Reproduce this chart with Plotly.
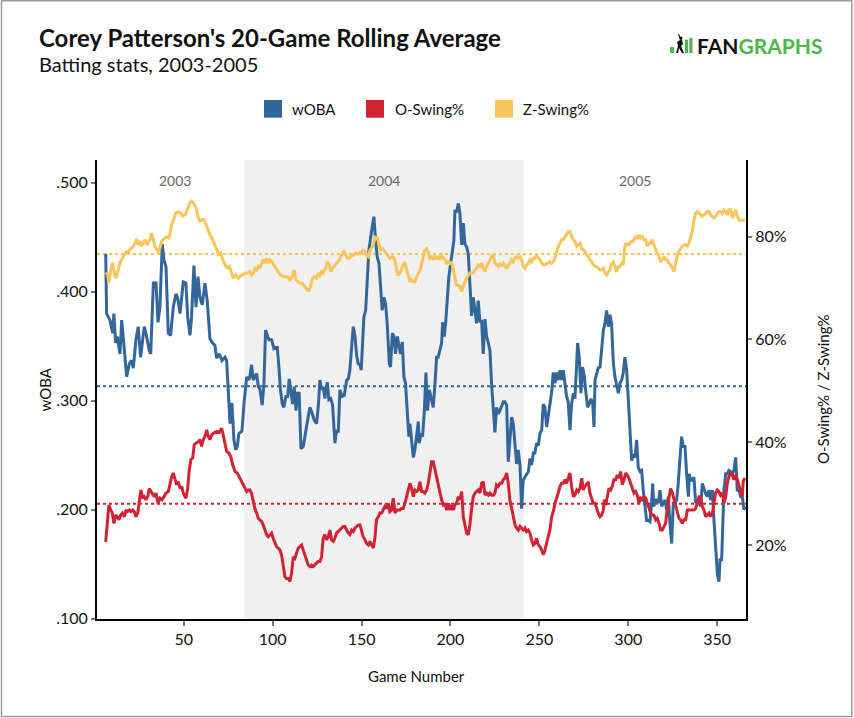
"""
Corey Patterson 20-game rolling average (wOBA, O-Swing%, Z-Swing%), 2003-2005
"""

import plotly.graph_objects as go

# ---- data ----
woba_games = [
    6.1, 6.6, 8.5, 10.0, 10.7, 11.7, 12.6, 13.4, 14.1, 15.1, 16.0, 16.7, 17.9, 19.4, 20.7, 21.6,
    23.1, 24.4, 25.7, 26.9, 27.8, 29.1, 30.6, 31.4, 32.9, 34.4, 35.5, 36.6, 37.9, 38.9, 40.0, 41.3,
    42.6, 44.1, 45.6, 46.5, 47.9, 49.7, 51.2, 52.2, 53.5, 54.4, 55.7, 56.9, 58.0, 59.1, 60.4, 61.9,
    63.2, 64.7, 66.2, 67.5, 68.5, 70.0, 71.5, 73.2, 74.1, 75.0, 76.0, 77.1, 78.2, 79.2, 80.1, 81.0,
    82.7, 83.9, 85.4, 86.5,
    87.2, 88.1, 89.1, 90.0, 91.0, 91.9, 92.8, 94.1, 95.1, 96.0, 97.0, 97.9, 99.4, 100.7, 101.6,
    102.6, 103.5, 104.4, 105.4, 106.3, 107.4, 108.4, 109.3, 110.3, 111.2, 112.1, 113.1, 114.0,
    114.9, 115.9, 117.2, 118.7, 120.0, 120.9, 122.3, 123.4, 124.7, 125.6, 126.6, 127.5, 128.4,
    129.4, 130.7, 131.6, 132.6, 133.7, 135.0, 135.9, 136.9, 137.8, 139.1, 140.3, 141.6, 142.5,
    143.4, 144.4, 145.3, 146.3, 147.2, 148.1, 149.1, 149.8, 150.6, 151.3, 152.3, 153.2, 154.1,
    155.1, 156.0, 156.9, 157.9, 158.8, 159.8, 160.7, 161.6, 162.6, 163.5, 164.4, 165.6, 166.3,
    167.3, 168.2, 169.1, 170.1, 171.0, 171.9, 172.9, 173.8, 174.7, 175.7, 176.6,
    177.2, 178.1, 179.1, 180.0, 181.0, 181.9, 182.4, 183.4, 184.3, 185.3, 186.2, 187.1, 188.1,
    189.0, 190.3, 191.3, 192.2, 193.1, 194.1, 195.0, 195.6, 196.5, 197.3, 198.2, 199.1, 200.1,
    201.0, 201.9, 202.5, 203.4, 204.4, 205.3, 206.3, 207.2, 208.1, 209.1, 210.0, 210.9, 211.9,
    212.8, 213.8, 214.7, 215.6, 216.6, 217.5, 218.4, 219.4, 220.3, 221.3, 222.2, 223.1, 224.1,
    225.0, 225.9, 226.9, 227.8, 228.8, 229.7, 230.6, 231.6, 232.5, 233.4, 234.4, 235.3, 236.3,
    237.2, 238.1, 239.1, 240.0, 240.9, 241.9, 242.8, 243.8, 244.7, 245.6, 246.6, 247.5, 248.4,
    249.4, 250.3, 251.3, 252.2, 253.1, 254.1, 255.0, 255.9, 256.9, 257.8, 258.8, 259.7, 260.6,
    261.6, 262.5, 263.4, 264.4, 265.3, 266.2,
    267.2, 268.1, 269.1, 270.0, 271.0, 271.5, 272.4, 273.4, 274.3, 275.3, 276.2, 277.1, 278.1,
    279.0, 280.0, 280.7, 281.3, 282.2, 283.1, 284.1, 285.0, 286.0, 286.9, 287.8, 288.8, 289.7,
    290.6, 291.6, 292.5, 293.4, 294.4, 295.3, 296.3, 297.2, 298.1, 299.1, 300.0, 300.9, 301.9,
    302.8, 303.8, 304.7, 305.6, 306.6, 307.5, 308.4, 309.4, 310.3, 311.3, 312.2, 313.1, 313.7,
    314.4, 315.0, 315.9, 316.9, 317.8, 318.8, 319.7, 320.6, 321.6, 322.5, 323.4, 324.4, 325.3,
    326.3, 327.2, 328.1, 329.1, 330.0, 330.9, 331.9, 332.8, 333.8, 334.3, 335.1, 336.0, 336.9,
    337.9, 338.8, 339.8, 340.7, 341.6, 342.6, 343.5, 344.4, 345.4, 346.3, 347.3, 348.2, 349.1,
    350.1, 351.0, 351.6, 352.5, 353.1, 353.8, 354.8, 355.7, 356.6, 357.6, 358.5, 359.4, 360.4,
    361.3, 362.3, 363.2, 364.1, 365.1, 365.6,
]
woba = [
    .435, .380, .374, .362, .380, .353, .359, .350, .343, .374, .356, .340, .322, .334, .337, .330,
    .356, .368, .340, .356, .368, .359, .346, .343, .408, .408, .372, .386, .444, .429, .423, .362,
    .360, .386, .398, .395, .380, .409, .408, .377, .360, .377, .424, .386, .414, .395, .388, .408,
    .392, .357, .353, .351, .339, .343, .337, .340, .337, .310, .279, .298, .264, .255, .258, .270,
    .272, .298, .322, .319,
    .322, .333, .319, .322, .325, .313, .311, .296, .316, .365, .360, .356, .356, .348, .349,
    .349, .331, .310, .297, .294, .304, .304, .320, .310, .297, .313, .291, .307,
    .307, .256, .258, .273, .288, .294, .288, .282, .279, .294, .319, .310, .313,
    .302, .317, .301, .302, .296, .261, .273, .271, .310, .304, .305, .319, .320,
    .328, .349, .368, .359, .342, .334, .333, .328, .352, .377, .383, .408, .438,
    .450, .460, .469, .447, .432, .426, .408, .383, .395, .389, .371, .334, .331,
    .362, .359, .343, .359, .349, .343, .354, .322, .316, .285, .267,
    .279, .264, .248, .255, .267, .281, .261, .270, .267, .291, .326, .291, .310,
    .304, .294, .316, .340, .340, .346, .353, .372, .359, .372, .398, .414, .426,
    .438, .447, .475, .473, .481, .472, .443, .463, .444, .441, .435, .411, .378,
    .395, .383, .371, .392, .372, .374, .343, .375, .359, .353, .346, .316, .293,
    .271, .294, .288, .291, .296, .299, .299, .296, .244, .267, .285, .279, .262,
    .242, .255, .241, .201, .227, .230, .232, .235, .247, .241, .252, .252, .261,
    .259, .270, .273, .297, .294, .276, .285, .297, .308, .326, .316, .326, .319,
    .328, .319, .328, .317, .304, .299,
    .273, .297, .307, .302, .334, .353, .340, .307, .331, .322, .307, .294, .297,
    .302, .297, .276, .319, .326, .330, .331, .349, .365, .371, .383, .368, .379,
    .371, .334, .322, .316, .307, .316, .319, .326, .340, .328, .304, .273, .245,
    .251, .248, .264, .239, .235, .236, .218, .206, .190, .190, .189, .206, .224,
    .203, .209, .209, .206, .218, .203, .206, .209, .200, .212, .188, .169, .206,
    .206, .209, .224, .248, .267, .258, .258, .233, .212, .233, .227, .227, .230,
    .206, .209, .206, .203, .224, .218, .215, .212, .218, .209, .218, .190, .169,
    .141, .134, .154, .154, .188, .218, .233, .233, .236, .235, .233, .236, .248,
    .218, .218, .212, .212, .200, .203,
]

oswing_games = [
    6.1, 7.0, 7.9, 8.9, 9.8, 10.7, 11.7, 12.6, 13.6, 14.5, 15.4, 16.6, 17.5, 18.4, 19.4, 20.3,
    21.2, 22.2, 23.1, 24.1, 25.0, 25.9, 26.9, 27.8, 28.7, 29.7, 30.6, 31.6, 32.5, 33.4, 34.4, 35.5,
    36.6, 37.7, 38.9, 40.0, 41.3, 42.2, 43.2, 44.1, 45.0, 46.0, 46.9, 47.9, 48.8, 49.7, 51.2, 52.2,
    53.1, 54.0, 55.0, 55.9, 56.9, 58.2, 59.1, 60.0, 61.0, 61.9, 62.9, 63.8, 64.7, 65.7, 67.0, 68.5,
    70.0, 71.3, 72.2, 73.2, 74.1, 75.4, 76.4, 77.5, 78.8, 80.1, 81.6, 83.1, 84.4, 85.4, 86.3,
    87.2, 88.1, 89.1, 90.0, 91.0, 91.9, 92.8, 93.8, 94.7, 95.6, 96.6, 97.5, 98.4, 99.4, 100.3,
    101.3, 102.2, 103.1, 104.1, 105.0, 106.0, 106.9, 107.8, 108.8, 109.7, 110.6, 111.6, 112.5,
    113.4, 114.4, 115.3, 116.3, 117.2, 118.1, 119.1, 120.0, 120.9, 121.9, 122.8, 123.8, 124.7,
    125.6, 126.6, 127.5, 128.4, 129.4, 130.3, 131.3, 132.2, 133.1, 134.1, 135.0, 135.9, 136.9,
    137.8, 138.8, 139.7, 140.6, 141.6, 142.5, 143.4, 144.4, 145.3, 146.3, 147.2, 148.1, 149.1,
    150.0, 150.9, 151.9, 152.8, 153.8, 154.7, 155.6, 156.6, 157.5, 158.4, 159.4, 160.3, 161.3,
    162.2, 163.1, 164.1, 165.0, 165.9, 166.9, 167.8, 168.8, 169.7, 170.6, 171.6, 172.5, 173.4,
    174.4, 175.3, 176.2,
    177.2, 178.1, 179.1, 180.0, 181.0, 181.9, 182.8, 183.8, 184.7, 185.6, 186.6, 187.5, 188.4,
    189.4, 190.3, 191.3, 192.2, 193.1, 194.1, 195.0, 196.0, 196.9, 197.8, 198.8, 199.7, 200.6,
    201.6, 202.5, 203.4, 204.4, 205.3, 206.3, 207.2, 208.1, 209.1, 210.0, 210.9, 211.9, 212.8,
    213.8, 214.7, 215.6, 216.6, 217.5, 218.4, 219.4, 220.3, 221.3, 222.2, 223.1, 224.1, 225.0,
    225.9, 226.9, 227.8, 228.8, 229.7, 230.6, 231.6, 232.5, 233.4, 234.4, 235.3, 236.3, 237.2,
    238.1, 239.1, 240.0, 240.9, 241.9, 242.8, 243.8, 244.7, 245.6, 246.6, 247.5, 248.4, 249.4,
    250.3, 251.3, 252.2, 253.1, 254.1, 255.0, 255.9, 256.9, 257.8, 258.8, 259.7, 260.6, 261.6,
    262.5, 263.4, 264.4, 265.3, 266.2,
    267.2, 268.1, 269.1, 270.0, 271.0, 271.9, 272.8, 273.8, 274.7, 275.6, 276.6, 277.5, 278.4,
    279.4, 280.3, 281.3, 282.2, 283.1, 284.1, 285.0, 286.0, 286.5, 287.3, 288.2, 289.1, 290.1,
    291.0, 291.9, 292.9, 293.8, 294.8, 295.7, 296.6, 297.6, 298.5, 299.4, 300.4, 301.3, 302.3,
    303.2, 304.1, 305.1, 306.0, 306.9, 307.9, 308.8, 309.8, 310.7, 311.6, 312.6, 313.5, 314.4,
    315.4, 316.3, 317.3, 318.2, 319.1, 320.1, 321.0, 321.9, 322.9, 323.8, 324.8, 325.7, 326.6,
    327.6, 328.5, 329.4, 330.4, 331.3, 332.3, 333.2, 334.1, 335.1, 336.0, 336.9, 337.9, 338.8,
    339.8, 340.7, 341.6, 342.6, 343.5, 344.4, 345.4, 346.3, 347.3, 348.2, 349.1, 350.1, 351.0,
    351.9, 352.9, 353.8, 354.8, 355.7, 356.6, 357.6, 358.5, 359.4, 360.4, 361.3, 362.3, 363.2,
    364.1, 364.7, 365.6,
]
oswing = [
    20.6, 24.9, 27.8, 26.8, 26.2, 24.2, 25.8, 25.5, 24.9, 25.8, 26.2, 25.5, 26.8, 26.5, 26.8, 26.5,
    26.8, 26.5, 25.5, 26.2, 28.8, 30.7, 29.1, 29.4, 28.8, 29.4, 31.0, 30.4, 30.1, 29.4, 30.1, 28.1,
    29.1, 28.8, 29.4, 30.1, 30.4, 32.0, 33.3, 34.0, 33.0, 31.7, 32.3, 31.0, 31.4, 30.1, 29.1, 31.0,
    34.6, 36.6, 36.9, 39.5, 39.8, 40.1, 40.5, 39.2, 40.5, 41.1, 42.4, 41.1, 40.5, 41.4, 41.8, 42.1,
    41.9, 42.7, 41.4, 39.8, 38.2, 37.9, 37.2, 35.6, 34.3, 34.0, 33.0, 32.0, 31.0, 30.4, 30.7,
    30.7, 30.1, 28.4, 27.1, 26.2, 25.2, 24.9, 24.6, 23.9, 22.9, 22.0, 21.6, 22.0, 22.3, 21.3,
    20.3, 19.7, 19.4, 19.0, 18.1, 15.8, 13.8, 13.5, 13.5, 12.9, 14.5, 17.7, 17.4,
    18.4, 19.4, 19.7, 20.0, 19.0, 18.1, 17.1, 16.1, 15.8, 16.1, 15.8, 16.1, 16.4,
    16.8, 16.8, 17.7, 21.3, 22.0, 21.0, 21.6, 22.9, 21.0, 20.7, 21.3, 22.3, 22.6,
    22.9, 23.3, 23.6, 23.6, 22.9, 22.3, 22.0, 22.9, 22.6, 23.3, 23.6, 23.9, 23.9,
    22.9, 21.6, 21.0, 20.3, 20.0, 20.7, 20.0, 19.4, 21.3, 24.9, 25.5, 26.2, 26.2,
    26.8, 27.5, 27.1, 28.1, 26.5, 26.8, 29.1, 26.2, 26.8, 26.8, 26.8, 27.1, 27.1,
    28.1, 29.4, 30.1,
    32.0, 31.0, 29.4, 30.7, 30.4, 30.7, 32.3, 30.4, 30.4, 30.1, 30.7, 32.0, 34.3,
    36.2, 36.2, 34.6, 32.7, 31.4, 29.7, 28.8, 27.8, 28.1, 26.8, 28.1, 26.8, 27.8,
    26.8, 27.8, 28.1, 29.4, 28.8, 30.4, 25.5, 23.9, 22.3, 22.0, 23.9, 27.1, 29.4,
    30.1, 30.4, 30.7, 30.1, 32.0, 32.3, 29.7, 30.1, 29.7, 30.1, 29.7, 29.7, 30.1,
    31.7, 31.4, 32.0, 32.0, 32.7, 33.0, 34.0, 32.0, 28.8, 27.1, 25.5, 23.9, 23.3,
    22.9, 23.6, 23.3, 22.9, 23.3, 22.6, 22.9, 22.3, 21.0, 20.0, 20.3, 21.3, 20.0,
    19.7, 19.0, 18.1, 19.0, 20.3, 21.6, 22.9, 25.5, 26.5, 28.1, 29.4, 30.1, 31.4,
    32.0, 32.0, 32.7, 32.0, 33.0,
    34.0, 31.4, 29.4, 29.7, 30.7, 30.4, 31.0, 33.0, 30.7, 31.4, 32.0, 32.3, 30.1,
    28.8, 28.1, 28.1, 27.1, 26.2, 25.5, 25.8, 26.8, 28.8, 27.8, 29.4, 31.0, 30.7,
    31.4, 32.7, 32.7, 33.6, 33.0, 34.3, 31.7, 32.7, 34.0, 33.6, 33.0, 32.0, 31.0,
    30.1, 30.4, 29.7, 28.1, 29.1, 28.8, 29.4, 29.1, 28.1, 27.1, 26.2, 25.8, 25.8,
    24.9, 25.2, 24.2, 22.9, 22.9, 23.6, 24.2, 27.1, 28.8, 31.0, 30.1, 28.8, 27.5,
    26.2, 25.2, 24.9, 24.2, 24.9, 24.9, 26.8, 26.8, 26.8, 26.8, 26.8, 27.1, 28.1,
    29.4, 29.4, 27.5, 26.8, 25.5, 25.8, 26.2, 25.5, 26.2, 28.1, 30.1, 30.7, 30.4,
    29.7, 30.1, 28.1, 29.4, 32.0, 33.3, 34.0, 33.6, 32.7, 33.6, 32.7, 31.4, 30.1,
    29.4, 32.5, 33.0,
]

zswing_games = [
    6.1, 7.0, 7.9, 8.9, 10.0, 10.9, 11.9, 13.2, 14.1, 15.4, 16.6, 17.9, 18.8, 19.7, 20.7, 21.6,
    22.6, 23.5, 24.4, 25.4, 26.3, 27.2, 28.2, 29.1, 30.0, 31.0, 31.9, 32.9, 33.8, 34.7, 35.7, 36.6,
    37.6, 38.5, 40.0, 41.3, 42.2, 43.2, 44.1, 45.6, 46.9, 48.2, 49.4, 50.7, 51.6, 52.6, 53.5, 54.4,
    55.4, 56.9, 58.2, 59.1, 60.4, 61.4, 62.5, 63.8, 64.7, 66.2, 67.5, 68.5, 69.6, 70.7, 71.9, 73.2,
    74.5, 75.6, 76.9, 77.9, 79.2, 80.7, 82.0, 83.5, 85.0, 86.3,
    87.2, 88.1, 89.1, 90.0, 91.0, 91.9, 92.8, 93.8, 94.7, 95.6, 96.6, 97.5, 98.4, 99.4, 100.7,
    101.8, 103.1, 104.4, 105.9, 107.3, 108.4, 109.7, 111.0, 112.1, 113.1, 114.4, 115.3, 116.6,
    117.8, 119.1, 120.2, 121.3, 122.4, 123.4, 124.7, 125.6, 126.6, 127.5, 128.4, 129.8, 130.7,
    131.8, 132.8, 133.7, 135.0, 135.9, 136.9, 137.8, 138.8, 140.1, 141.2, 142.1, 143.1, 144.0,
    144.9, 145.9, 146.8, 148.1, 149.1, 150.0, 150.9, 151.9, 152.8, 153.8, 154.7, 155.6, 156.6,
    157.7, 158.8, 159.8, 160.7, 161.8, 163.1, 164.1, 165.0, 165.9, 167.3, 168.2, 169.1, 170.3,
    171.6, 172.5, 173.4, 174.4, 175.3, 176.2,
    177.2, 178.1, 179.1, 180.0, 181.0, 181.9, 182.8, 183.8, 184.7, 185.6, 186.6, 187.5, 188.4,
    189.4, 190.3, 191.3, 192.2, 193.1, 194.1, 195.0, 196.0, 196.9, 197.8, 198.8, 199.7, 200.6,
    201.6, 202.5, 203.4, 204.4, 205.3, 206.3, 207.2, 208.1, 209.1, 210.0, 210.9, 211.9, 212.8,
    213.8, 214.7, 215.6, 216.6, 217.5, 218.4, 219.4, 220.3, 221.3, 222.2, 223.1, 224.1, 225.0,
    225.9, 226.9, 227.8, 228.8, 229.7, 230.6, 231.6, 232.5, 233.4, 234.4, 235.3, 236.3, 237.2,
    238.1, 239.1, 240.0, 240.9, 241.9, 242.8, 243.8, 244.7, 245.6, 246.6, 247.5, 248.4, 249.4,
    250.3, 251.3, 252.2, 253.1, 254.1, 255.0, 255.9, 256.9, 257.8, 258.8, 259.7, 260.6, 261.6,
    262.5, 263.4, 264.4, 265.3, 266.2,
    267.2, 268.1, 269.1, 270.0, 271.0, 271.9, 272.8, 273.8, 274.7, 275.6, 276.6, 277.5, 278.4,
    279.4, 280.3, 281.3, 282.2, 283.1, 284.1, 285.0, 286.0, 286.9, 287.8, 288.8, 289.7, 290.6,
    291.6, 292.5, 293.4, 294.4, 295.3, 296.3, 297.2, 297.8, 298.5, 299.4, 300.4, 301.3, 302.3,
    303.2, 304.1, 305.1, 306.0, 306.9, 307.9, 308.8, 309.8, 310.7, 311.6, 312.6, 313.5, 314.4,
    315.4, 316.3, 317.3, 318.2, 319.1, 320.1, 321.0, 321.9, 322.9, 323.8, 324.8, 325.7, 326.6,
    327.6, 328.5, 329.4, 330.4, 331.3, 332.3, 333.2, 334.1, 335.1, 336.0, 336.9, 337.9, 338.8,
    339.8, 340.7, 341.6, 342.6, 343.5, 344.4, 345.4, 346.3, 347.3, 348.2, 349.1, 350.1, 351.0,
    351.9, 352.9, 353.8, 354.8, 355.7, 356.6, 357.6, 358.5, 359.4, 360.4, 361.3, 362.3, 363.2,
    364.1, 365.6,
]
zswing = [
    72.6, 72.9, 71.0, 73.6, 74.9, 72.9, 71.9, 73.6, 74.9, 75.8, 76.5, 77.1, 76.8, 77.5, 77.8, 78.1,
    78.8, 79.5, 78.4, 79.1, 78.1, 78.8, 79.4, 78.4, 78.8, 79.4, 80.7, 79.1, 78.1, 77.5, 77.1, 77.8,
    79.1, 79.4, 79.9, 79.7, 80.4, 82.3, 83.3, 84.6, 84.8, 84.6, 84.0, 84.3, 84.9, 85.9, 86.6, 86.9,
    86.6, 85.6, 83.6, 83.0, 83.3, 83.3, 82.3, 81.0, 80.4, 79.4, 78.1, 77.5, 76.5, 76.8, 75.5, 74.5,
    73.9, 74.2, 72.9, 71.9, 72.6, 71.9, 72.4, 72.6, 72.9, 72.9,
    73.2, 72.5, 72.9, 73.8, 73.5, 74.2, 73.8, 74.8, 75.5, 74.8, 75.8, 74.8, 75.5, 75.1, 74.5,
    73.8, 73.2, 72.5, 72.2, 72.2, 72.2, 71.6, 72.2, 73.5, 71.6, 71.2, 70.9, 70.9,
    70.3, 69.9, 69.3, 70.3, 71.9, 72.2, 71.9, 72.9, 72.5, 73.2, 72.9, 73.8, 75.1,
    74.5, 73.2, 73.8, 74.5, 74.8, 75.1, 75.8, 76.4, 77.1, 76.4, 75.8, 75.8, 76.1,
    76.4, 76.4, 76.8, 76.6, 76.8, 77.1, 77.4, 77.1, 76.4, 76.1, 77.4, 77.7, 78.4,
    79.9, 79.7, 78.7, 77.4, 77.7, 77.1, 76.8, 76.4, 75.8, 76.1, 75.8, 74.8, 72.5,
    72.9, 73.8, 74.5, 74.8, 73.8, 72.5,
    71.2, 71.6, 71.2, 71.2, 72.2, 72.9, 73.2, 74.5, 76.1, 77.4, 77.7, 77.1, 75.8,
    76.1, 75.5, 76.1, 75.8, 76.1, 75.5, 76.4, 75.8, 75.5, 74.8, 75.1, 74.8, 75.1,
    73.5, 71.9, 70.6, 70.6, 70.3, 69.3, 70.3, 71.2, 71.9, 72.5, 72.9, 72.9, 72.9,
    73.5, 73.8, 74.5, 74.2, 74.8, 73.8, 73.2, 74.2, 74.8, 75.5, 76.1, 76.4, 74.8,
    74.5, 74.2, 74.8, 74.2, 74.8, 74.2, 73.8, 74.5, 74.8, 75.5, 75.1, 75.8, 76.1,
    75.8, 76.1, 75.5, 74.2, 73.8, 74.5, 74.8, 75.5, 75.1, 75.8, 75.8, 76.4, 75.8,
    75.5, 74.8, 74.5, 74.5, 74.8, 74.8, 75.1, 74.8, 75.1, 75.8, 76.8, 78.1, 78.7,
    79.4, 79.4, 80.0, 80.3, 81.0,
    81.0, 80.0, 79.4, 79.0, 78.1, 78.4, 78.7, 77.7, 77.4, 77.1, 76.4, 76.1, 75.5,
    75.1, 74.5, 74.2, 74.2, 73.8, 73.5, 73.5, 73.8, 72.9, 72.5, 73.2, 73.5, 74.8,
    75.1, 74.2, 73.2, 74.2, 74.2, 74.8, 74.5, 77.4, 78.7, 78.4, 78.4, 79.0, 79.0,
    79.4, 80.0, 79.7, 80.3, 79.7, 80.0, 79.4, 79.4, 78.1, 78.7, 78.7, 79.4, 78.4,
    77.4, 76.8, 76.1, 75.1, 75.5, 76.1, 75.5, 75.5, 74.8, 74.5, 73.8, 73.2, 74.8,
    76.4, 77.1, 77.7, 78.1, 78.4, 78.4, 78.1, 78.7, 80.0, 81.0, 83.2, 84.5, 84.9,
    84.5, 84.2, 83.9, 84.2, 84.5, 84.9, 84.9, 84.2, 83.9, 83.6, 83.9, 84.5, 84.9,
    84.9, 84.5, 85.2, 84.9, 84.2, 85.2, 85.2, 83.6, 84.5, 85.2, 83.9, 83.2, 83.2,
    83.2, 83.2,
]

# averages (dotted reference lines)
woba_avg = 0.3133
oswing_avg = 28.0
zswing_avg = 76.6

# season boundaries (game numbers) and labels
season_labels = ['2003', '2004', '2005']
season_bounds = [6, 84, 241, 366]

x_ticks = [50, 100, 150, 200, 250, 300, 350]
woba_ticks = [0.1, 0.2, 0.3, 0.4, 0.5]
woba_ticktext = ['.100', '.200', '.300', '.400', '.500']
pct_ticks = [20, 40, 60, 80]
pct_ticktext = ['20%', '40%', '60%', '80%']

series_names = ['wOBA', 'O-Swing%', 'Z-Swing%']

# ---- style ----
BLUE = '#33679b'
RED = '#d12331'
YELLOW = '#f9c55b'
FONT = 'Lato'

# plot area in pixels (for placing decorations)
L, R, T, B = 97, 746, 160, 619


def px(x):
    return (x - L) / (R - L)


def py(y):
    return (B - y) / (B - T)


fig = go.Figure()

fig.add_trace(go.Scatter(x=woba_games, y=woba, mode='lines', name=series_names[0],
                         line=dict(color=BLUE, width=3), yaxis='y', hoverinfo='skip'))
fig.add_trace(go.Scatter(x=oswing_games, y=oswing, mode='lines', name=series_names[1],
                         line=dict(color=RED, width=3), yaxis='y2', hoverinfo='skip'))
fig.add_trace(go.Scatter(x=zswing_games, y=zswing, mode='lines', name=series_names[2],
                         line=dict(color=YELLOW, width=3), yaxis='y2', hoverinfo='skip'))

shapes = []
# 2004 season shading
shapes.append(dict(type='rect', xref='x', yref='paper', x0=season_bounds[1], x1=season_bounds[2],
                   y0=0, y1=1, fillcolor='#f0f0f0', line=dict(width=0), layer='below'))
# dotted average lines
for yref, val, col in [('y', woba_avg, BLUE), ('y2', oswing_avg, RED), ('y2', zswing_avg, YELLOW)]:
    shapes.append(dict(type='line', xref='paper', yref=yref, x0=0, x1=1, y0=val, y1=val,
                       line=dict(color=col, width=2, dash='dot'), layer='below'))

# legend squares
legend_x = [264, 366, 495]
legend_text_x = [290, 392.5, 521]
for lx, col in zip(legend_x, [BLUE, RED, YELLOW]):
    shapes.append(dict(type='rect', xref='paper', yref='paper', x0=px(lx), x1=px(lx + 18),
                       y0=py(117.7), y1=py(100), fillcolor=col, line=dict(width=0)))

# fangraphs logo bits
shapes.append(dict(type='rect', xref='paper', yref='paper', x0=px(670), x1=px(674),
                   y0=py(53), y1=py(47), fillcolor='#4cb848', line=dict(width=0)))
shapes.append(dict(type='rect', xref='paper', yref='paper', x0=px(685), x1=px(688),
                   y0=py(53), y1=py(39.7), fillcolor='#4cb848', line=dict(width=0)))
shapes.append(dict(type='rect', xref='paper', yref='paper', x0=px(689.3), x1=px(692.5),
                   y0=py(53), y1=py(38), fillcolor='#4cb848', line=dict(width=0)))
batter = [(676, 53), (678, 46), (677, 42), (680, 40), (678, 34), (679, 34), (682, 40),
          (683, 44), (681, 46), (684, 53), (682, 53), (679, 48), (678, 53)]
path = 'M ' + ' L '.join(f'{px(a):.5f},{py(b):.5f}' for a, b in batter) + ' Z'
shapes.append(dict(type='path', xref='paper', yref='paper', path=path,
                   fillcolor='#111111', line=dict(width=0)))
shapes.append(dict(type='circle', xref='paper', yref='paper', x0=px(679.5), x1=px(682.5),
                   y0=py(39.5), y1=py(36.5), fillcolor='#111111', line=dict(width=0)))

# outer border
shapes.append(dict(type='rect', xref='paper', yref='paper', x0=px(1.5), x1=px(851.8),
                   y0=py(716.5), y1=py(0.8), line=dict(color='#9a9a9a', width=1.5)))

annotations = []
annotations.append(dict(text="Corey Patterson's 20-Game Rolling Average", xref='paper', yref='paper',
                        x=px(37), y=py(37.5), xanchor='left', yanchor='middle', showarrow=False,
                        font=dict(family=FONT, size=24, color='#111111', weight='bold')))
annotations.append(dict(text='Batting stats, 2003-2005', xref='paper', yref='paper',
                        x=px(37), y=py(64.5), xanchor='left', yanchor='middle', showarrow=False,
                        font=dict(family=FONT, size=20, color='#111111')))
annotations.append(dict(text="<span style='color:#111111'>FAN</span><span style='color:#4cb848'>GRAPHS</span>",
                        xref='paper', yref='paper', x=px(694.5), y=py(45.7), xanchor='left',
                        yanchor='middle', showarrow=False,
                        font=dict(family=FONT, size=21, weight='bold')))
for tx, name in zip(legend_text_x, series_names):
    annotations.append(dict(text=name, xref='paper', yref='paper', x=px(tx), y=py(108.5),
                            xanchor='left', yanchor='middle', showarrow=False,
                            font=dict(family=FONT, size=15, color='#111111')))
for i, lab in enumerate(season_labels):
    annotations.append(dict(text=lab, xref='x', yref='paper',
                            x=(season_bounds[i] + season_bounds[i + 1]) / 2, y=py(181),
                            xanchor='center', yanchor='middle', showarrow=False,
                            font=dict(family=FONT, size=14, color='#666666')))
annotations.append(dict(text='wOBA', xref='paper', yref='paper', x=px(44), y=0.5, textangle=-90,
                        xanchor='center', yanchor='middle', showarrow=False,
                        font=dict(family=FONT, size=15, color='#111111')))
annotations.append(dict(text='O-Swing% / Z-Swing%', xref='paper', yref='paper', x=px(822.5), y=0.5,
                        textangle=-90, xanchor='center', yanchor='middle', showarrow=False,
                        font=dict(family=FONT, size=15, color='#111111')))
annotations.append(dict(text='Game Number', xref='paper', yref='paper', x=px(416.5), y=py(676),
                        xanchor='center', yanchor='middle', showarrow=False,
                        font=dict(family=FONT, size=15, color='#111111')))

axis_common = dict(showgrid=False, zeroline=False, showline=True, linecolor='black', linewidth=2,
                   ticks='outside', tickcolor='#777777', tickwidth=1.5,
                   tickfont=dict(family=FONT, size=16, color='#111111'), fixedrange=True)

fig.update_layout(
    width=854, height=718,
    margin=dict(l=L, r=854 - R, t=T, b=718 - B),
    paper_bgcolor='white', plot_bgcolor='white',
    showlegend=False,
    font=dict(family=FONT, color='#111111'),
    xaxis=dict(range=[1.2, 366.2], tickvals=x_ticks, ticklen=5, **axis_common),
    yaxis=dict(range=[0.0997, 0.521], tickvals=woba_ticks, ticktext=woba_ticktext, ticklen=4,
               **axis_common),
    yaxis2=dict(range=[5.6, 94.9], tickvals=pct_ticks, ticktext=pct_ticktext, ticklen=4,
                overlaying='y', side='right', anchor='x', **axis_common),
    shapes=shapes,
    annotations=annotations,
)

fig.write_html('out.html', config={'displayModeBar': False},
               post_script="document.body.style.margin='0';")
